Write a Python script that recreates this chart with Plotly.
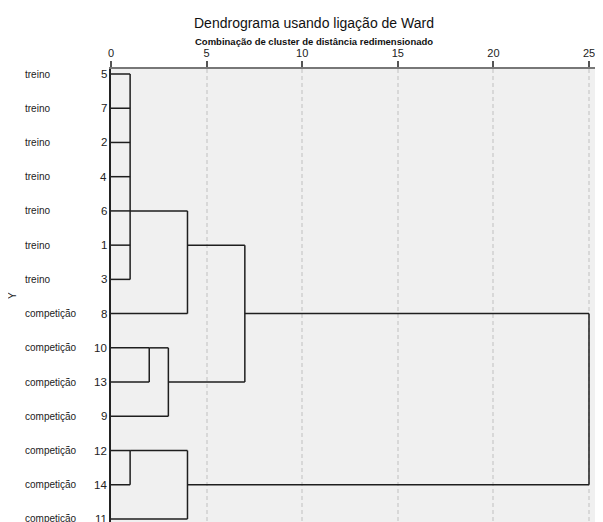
import plotly.graph_objects as go

# ---- data ----
leaf_ids = [5, 7, 2, 4, 6, 1, 3, 8, 10, 13, 9, 12, 14, 11]
leaf_groups = ["treino"] * 7 + ["competição"] * 7
# merges: children ("L<row>" leaf row, "M<k>" earlier merge), rescaled distance, exit row
merge_children = [
    ["L0", "L1", "L2", "L3", "L4", "L5", "L6"],
    ["L8", "L9"],
    ["M1", "L10"],
    ["L11", "L12"],
    ["M0", "L7"],
    ["M3", "L13"],
    ["M4", "M2"],
    ["M6", "M5"],
]
merge_dist = [1, 2, 3, 1, 4, 4, 7, 25]
merge_out_row = [4, 8, 9, 11, 5, 12, 7, 7]
x_ticks = [0, 5, 10, 15, 20, 25]

title_text = "Dendrograma usando ligação de Ward"
subtitle_text = "Combinação de cluster de distância redimensionado"
y_title = "Y"

# ---- build line segments ----
xs, ys = [], []


def child_pos(c):
    if c[0] == "L":
        return 0, int(c[1:])
    k = int(c[1:])
    return merge_dist[k], merge_out_row[k]


for k, children in enumerate(merge_children):
    d = merge_dist[k]
    rows = []
    for c in children:
        cx, cr = child_pos(c)
        rows.append(cr)
        xs += [cx, d, None]
        ys += [cr, cr, None]
    xs += [d, d, None]
    ys += [min(rows), max(rows), None]

fig = go.Figure()
fig.add_trace(go.Scatter(x=xs, y=ys, mode="lines",
                         line=dict(color="#1e1e1e", width=1.5),
                         hoverinfo="skip", showlegend=False))

# page body has an 8px margin: figure occupies 8..603 x 8..522
OFF = 8
W, H = 603 - OFF, 522 - OFF
ml, mt = 111 - OFF, 69 - OFF
px_per_unit = 19.12
row_px = 34.23
row0 = 74 - OFF
x_max = (W - ml) / px_per_unit
first_row_off = (row0 - mt) / row_px
y_bottom = (H - row0) / row_px

font = "Liberation Sans, Arial, sans-serif"

for i, (g, lid) in enumerate(zip(leaf_groups, leaf_ids)):
    fig.add_annotation(x=-(ml - (23 - OFF)) / (W - ml), xref="paper", y=i, yref="y",
                       text=g, showarrow=False, xanchor="left", yanchor="middle",
                       font=dict(size=10, color="#222", family=font))
    fig.add_annotation(x=-(ml - (108.5 - OFF)) / (W - ml), xref="paper", y=i, yref="y",
                       text=str(lid), showarrow=False, xanchor="right", yanchor="middle",
                       font=dict(size=11.5, color="#222", family=font))

fig.add_annotation(x=10.63, xref="x", y=1 + (mt - (23 - OFF)) / (H - mt), yref="paper",
                   text=title_text, showarrow=False, xanchor="center", yanchor="middle",
                   font=dict(size=14, color="#111", family=font))
fig.add_annotation(x=10.63, xref="x", y=1 + (mt - (42 - OFF)) / (H - mt), yref="paper",
                   text="<b>" + subtitle_text + "</b>", showarrow=False,
                   xanchor="center", yanchor="middle",
                   font=dict(size=9.5, color="#111", family=font))
fig.add_annotation(x=-(ml - (12 - OFF)) / (W - ml), xref="paper",
                   y=1 - (296 - OFF - mt) / (H - mt),
                   yref="paper", yanchor="middle", xanchor="center",
                   text=y_title, textangle=-90, showarrow=False,
                   font=dict(size=10, color="#222", family=font))

fig.update_xaxes(range=[0, x_max], side="top", tickvals=x_ticks,
                 showline=True, linecolor="#777", linewidth=1.5,
                 ticks="outside", ticklen=6, tickwidth=2, tickcolor="#555",
                 tickfont=dict(size=11, color="#222", family=font),
                 showgrid=True, gridcolor="#d8d8d8", gridwidth=1.5,
                 griddash="4px,3px", zeroline=False, fixedrange=True)
fig.update_yaxes(range=[y_bottom, -first_row_off],
                 showline=True, linecolor="#222", linewidth=2,
                 ticks="", showgrid=False, zeroline=False, showticklabels=False,
                 fixedrange=True)

fig.update_layout(width=W, height=H, margin=dict(l=ml, r=0, t=mt, b=0),
                  plot_bgcolor="#f0f0f0", paper_bgcolor="white",
                  font=dict(family=font))

fig.write_html("out.html")
